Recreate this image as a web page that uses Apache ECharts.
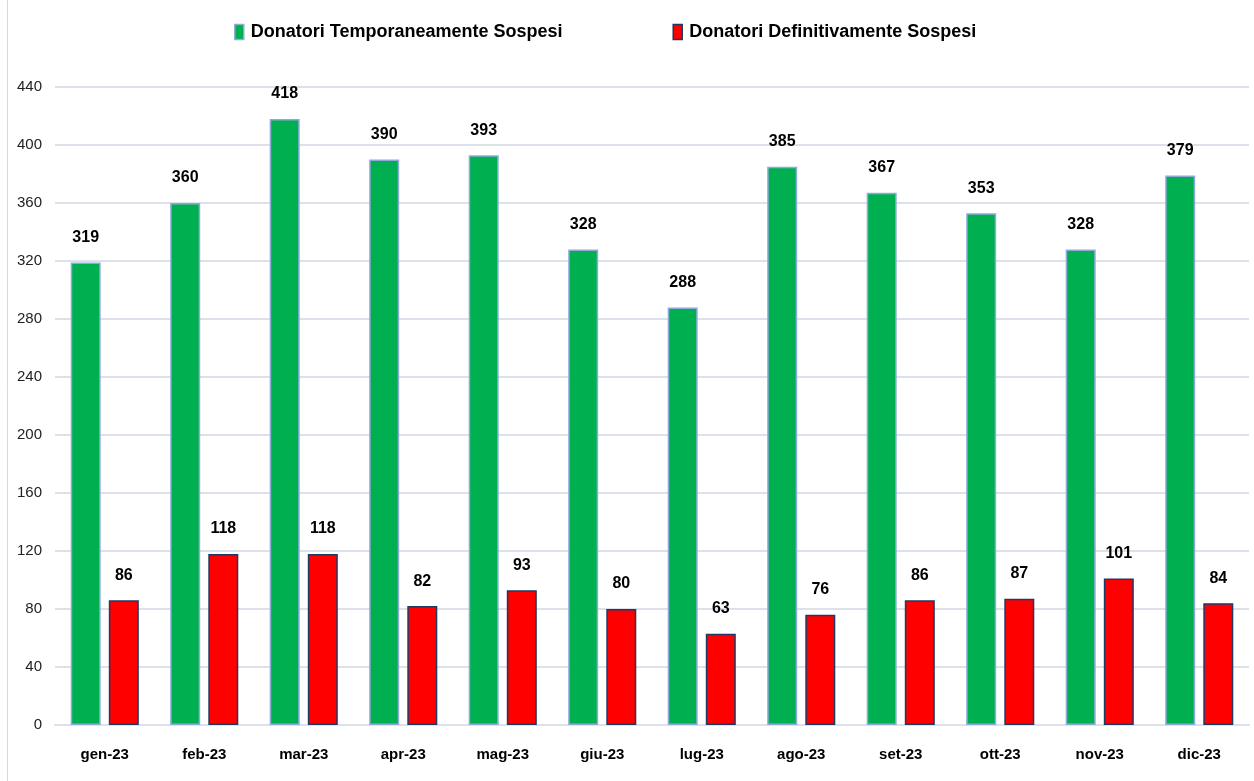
<!DOCTYPE html>
<html><head><meta charset="utf-8">
<script src="https://cdn.jsdelivr.net/npm/echarts@6/dist/echarts.min.js"></script>
<style>html,body{margin:0;padding:0;background:#fff}#c{width:1254px;height:781px}</style>
</head><body><div id="c"></div>
<script>
const categories = ['gen-23','feb-23','mar-23','apr-23','mag-23','giu-23','lug-23','ago-23','set-23','ott-23','nov-23','dic-23'];
const temporanei = [319,360,418,390,393,328,288,385,367,353,328,379];
const definitivi = [86,118,118,82,93,80,63,76,86,87,101,84];
const seriesNames = ['Donatori Temporaneamente Sospesi','Donatori Definitivamente Sospesi'];

const FONT = "'Liberation Sans Narrow','Arial Narrow','Liberation Sans',Arial,sans-serif";
const chart = echarts.init(document.getElementById('c'), null, {renderer:'canvas'});
const labelCfg = {show:true, position:'top', distance:17, color:'#000', fontFamily:FONT, fontWeight:'bold', fontSize:16};
chart.setOption({
  animation:false,
  backgroundColor:'#fff',
  graphic:[{type:'line', shape:{x1:7.5,y1:0,x2:7.5,y2:781}, style:{stroke:'#d9d9d9', lineWidth:1}}],
  legend:{
    top:18, left:229, itemGap:110, itemWidth:9, itemHeight:15,
    icon:'rect',
    textStyle:{fontFamily:FONT, fontWeight:'bold', fontSize:18, color:'#000', padding:[0,0,0,2]},
    data:[
      {name:seriesNames[0], itemStyle:{borderColor:'#8eaadb', borderWidth:1.5}},
      {name:seriesNames[1], itemStyle:{borderColor:'#1f3864', borderWidth:1.5}}
    ]
  },
  grid:{left:55, right:5, top:87, bottom:56, containLabel:false},
  xAxis:{
    type:'category', data:categories,
    axisLine:{show:true, lineStyle:{color:'#dde2ea', width:2}},
    axisTick:{show:false},
    axisLabel:{margin:22, color:'#000', fontFamily:FONT, fontWeight:'bold', fontSize:15}
  },
  yAxis:{
    type:'value', min:0, max:440, interval:40,
    axisLine:{show:false}, axisTick:{show:false},
    axisLabel:{margin:13, color:'#222', fontFamily:FONT, fontSize:15},
    splitLine:{lineStyle:{color:'#dde2ea', width:2}}
  },
  series:[
    {name:seriesNames[0], type:'bar', data:temporanei, barWidth:30, barGap:'27%',
     itemStyle:{color:'#00b050', borderColor:'#8eaadb', borderWidth:1.5}, label:labelCfg},
    {name:seriesNames[1], type:'bar', data:definitivi, barWidth:30,
     itemStyle:{color:'#ff0000', borderColor:'#1f3864', borderWidth:1.5}, label:labelCfg}
  ]
});
</script></body></html>
